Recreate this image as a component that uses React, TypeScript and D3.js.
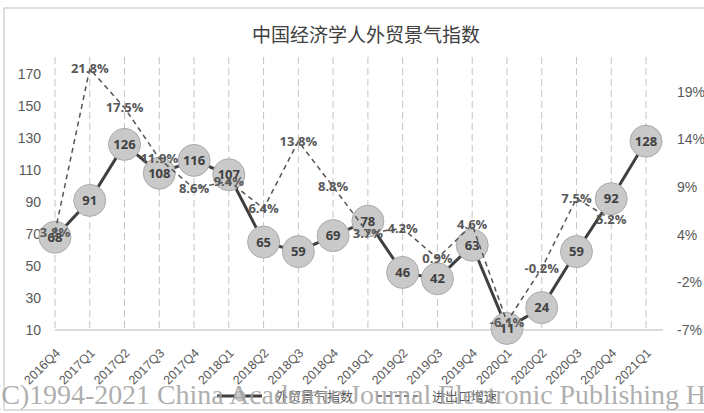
import React from "react";
import * as d3 from "d3";

const categories = ["2016Q4","2017Q1","2017Q2","2017Q3","2017Q4","2018Q1","2018Q2","2018Q3","2018Q4","2019Q1","2019Q2","2019Q3","2019Q4","2020Q1","2020Q2","2020Q3","2020Q4","2021Q1"];
const indexValues = [68, 91, 126, 108, 116, 107, 65, 59, 69, 78, 46, 42, 63, 11, 24, 59, 92, 128];
const growthValues = [3.8, 21.8, 17.5, 11.9, 8.6, 9.4, 6.4, 13.8, 8.8, 3.7, 4.2, 0.9, 4.6, -6.1, -0.2, 7.5, 5.2];
const leftTicks = [10, 30, 50, 70, 90, 110, 130, 150, 170];
const rightTicks = [-7, -1.75, 3.5, 8.75, 14, 19.25];
const title = "中国经济学人外贸景气指数";
const legendNames = ["外贸景气指数", "进出口增速"];
const watermark = "(C)1994-2021 China Academic Journal Electronic Publishing H";

const W = 704, H = 413;
const top = 57, bottom = 330;

export default function App() {
  const x = d3.scalePoint<string>().domain(categories).range([55, 646]);
  const yL = d3.scaleLinear().domain([10, 180.6]).range([bottom, top]);
  const yR = d3.scaleLinear().domain([-7, 23.1]).range([bottom, top]);

  const solid = d3.line<number>().x((_, i) => x(categories[i])!).y(d => yL(d))(indexValues)!;
  const dashed = d3.line<number>().x((_, i) => x(categories[i])!).y(d => yR(d))(growthValues)!;

  const axisFont = "'Liberation Sans', Arial, sans-serif";
  const labelFont = "'Open Sans', 'Liberation Sans', sans-serif";

  return (
    <svg width={W} height={H} style={{ position: "absolute", left: 0, top: 0, background: "#fff" }}>
      <rect x={4} y={8} width={W + 10} height={402} fill="#fff" stroke="#d4d4d4" strokeWidth={1.5} />
      <text x={366} y={42} textAnchor="middle" fontSize={19} fill="#404040" fontFamily="'Noto Sans CJK SC', sans-serif">{title}</text>

      {categories.map(c => (
        <line key={c} x1={x(c)} x2={x(c)} y1={top} y2={bottom} stroke="#c4c4c4" strokeWidth={1} strokeDasharray="7,4" />
      ))}
      <line x1={55} x2={663} y1={bottom} y2={bottom} stroke="#cfcfcf" strokeWidth={1.5} />

      {leftTicks.map(t => (
        <text key={t} x={41} y={yL(t)} dy="0.35em" textAnchor="end" fontSize={14} fill="#595959" fontFamily={axisFont}>{t}</text>
      ))}
      {rightTicks.map(t => (
        <text key={t} x={677} y={yR(t)} dy="0.35em" textAnchor="start" fontSize={14} fill="#595959" fontFamily={axisFont}>{`${Math.round(t)}%`}</text>
      ))}
      {categories.map(c => (
        <text key={c} transform={`translate(${x(c)! + 3},${351}) rotate(-45)`} textAnchor="end" dominantBaseline="central" fontSize={12.5} fill="#595959" fontFamily={axisFont}>{c}</text>
      ))}

      <path d={solid} fill="none" stroke="#404040" strokeWidth={3} />
      {indexValues.map((v, i) => (
        <circle key={i} cx={x(categories[i])} cy={yL(v)} r={16} fill="#c9c9c9" stroke="#ababab" strokeWidth={1} />
      ))}
      {indexValues.map((v, i) => (
        <text key={i} x={x(categories[i])} y={yL(v)} dy="0.36em" textAnchor="middle" fontSize={13} fontWeight={700} fill="#404040" fontFamily={labelFont}>{v}</text>
      ))}

      <path d={dashed} fill="none" stroke="#555" strokeWidth={1.5} strokeDasharray="5,4" />
      {growthValues.map((v, i) => (
        <text key={i} x={x(categories[i])} y={yR(v)} dy="0.36em" textAnchor="middle" fontSize={13} fontWeight={700} fill="#595959" fontFamily={labelFont}>{`${v.toFixed(1)}%`}</text>
      ))}

      <g fontFamily="'Noto Sans CJK SC', sans-serif" fontSize={13} fill="#595959">
        <line x1={217} x2={262} y1={396} y2={396} stroke="#404040" strokeWidth={3} />
        <circle cx={240} cy={396} r={5} fill="#c9c9c9" stroke="#ababab" />
        <text x={275} y={396} dy="0.35em">{legendNames[0]}</text>
        <line x1={377} x2={420} y1={396} y2={396} stroke="#555" strokeWidth={1.5} strokeDasharray="5,4" />
        <text x={432} y={396} dy="0.35em">{legendNames[1]}</text>
      </g>

      <text x={-8} y={404} fontSize={28} fill="#a0a0a0" fillOpacity={0.85} textLength={714} lengthAdjust="spacing" fontFamily="'Liberation Serif', 'Times New Roman', serif">{watermark}</text>
    </svg>
  );
}
